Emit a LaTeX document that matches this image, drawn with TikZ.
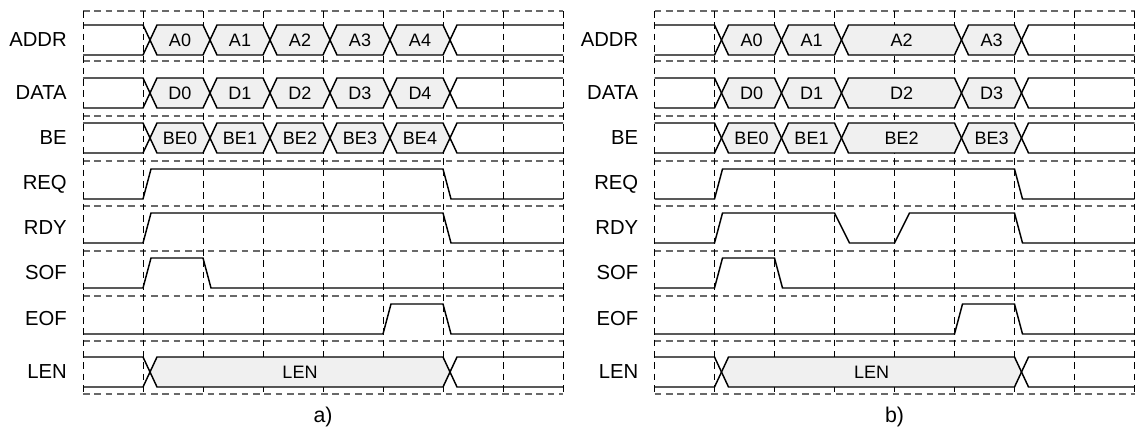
\documentclass[tikz,border=0pt]{standalone}
\usepackage{fontspec}
\setmainfont{Liberation Sans}
\usetikzlibrary{calc}
\definecolor{BusClr}{RGB}{240,240,240}
\definecolor{GridClr}{RGB}{105,105,105}

\begin{document}
\begin{tikzpicture}[x=0.75pt,y=-0.75pt,
  wave/.style={line width=1.1pt,black,line join=miter},
  busval/.style={wave,fill=BusClr},
  hgrid/.style={GridClr,line width=0.8pt,dash pattern=on 5pt off 3.5pt},
  vgrid/.style={black,line width=0.7pt,dash pattern=on 5pt off 3.5pt},
  sig/.style={font=\fontsize{15.2}{18}\selectfont,anchor=east,inner sep=0pt},
  val/.style={font=\fontsize{13.5}{16}\selectfont,inner sep=0pt},
  capt/.style={font=\fontsize{16}{19}\selectfont,inner sep=0pt}]
\useasboundingbox (0,0) rectangle (1135,439);

\newcommand{\DrawGrid}{%
  \foreach \y in {11,61,116,161,206,251,296,341,394}
    \draw[hgrid] (0,\y) -- (480,\y);
  \foreach \t in {0,...,8}
    \draw[vgrid] ({60*\t},11) -- ({60*\t},394);}
\newcommand{\DrawNames}[1]{%
  \foreach \n/\y in {ADDR/25,DATA/78,BE/123,REQ/169,RDY/213,SOF/258,EOF/304,LEN/357}
    \node[sig] (#1\n) at (-16,\y+15) {\n};}
\newcommand{\BusHead}[2]{%
  \draw[wave] (0,#1) -- ({60*(#2)},#1) -- ({60*(#2)+7},{#1+15}) -- ({60*(#2)},{#1+30}) -- (0,{#1+30});}
\newcommand{\BusTail}[2]{%
  \draw[wave] (480,#1) -- ({60*(#2)+14},#1) -- ({60*(#2)+7},{#1+15}) -- ({60*(#2)+14},{#1+30}) -- (480,{#1+30});}
\newcommand{\BusVal}[5]{%
  \filldraw[busval] ({60*(#1)+7},{#3+15}) -- ({60*(#1)+14},#3) -- ({60*(#2)},#3)
    -- ({60*(#2)+7},{#3+15}) -- ({60*(#2)},{#3+30}) -- ({60*(#1)+14},{#3+30}) -- cycle;
  \node[val] (#4) at ({30*(#1)+30*(#2)+7},{#3+15}) {#5};}

% a)
\begin{scope}[shift={(83,0)}]
\DrawGrid
\DrawNames{a}
\foreach \y/\p in {25/A,78/D,123/BE}{
  \BusHead{\y}{1}
  \foreach \i in {0,...,4} \BusVal{\i+1}{\i+2}{\y}{a\p\i}{\p\i};
  \BusTail{\y}{6}}
\draw[wave] (0,199) -- (60,199) -- (68,169) -- (360,169) -- (368,199) -- (480,199);
\draw[wave] (0,243) -- (60,243) -- (68,213) -- (360,213) -- (368,243) -- (480,243);
\draw[wave] (0,288) -- (60,288) -- (68,258) -- (120,258) -- (128,288) -- (480,288);
\draw[wave] (0,334) -- (300,334) -- (308,304) -- (360,304) -- (368,334) -- (480,334);
\BusHead{357}{1}
\BusVal{1}{6}{357}{aLENv}{LEN}
\BusTail{357}{6}
\node[capt] (acap) at (240,417) {a)};
\end{scope}

% b)
\begin{scope}[shift={(654.5,0)}]
\DrawGrid
\DrawNames{b}
\foreach \y/\p in {25/A,78/D,123/BE}{
  \BusHead{\y}{1}
  \foreach \i/\s/\e in {0/1/2,1/2/3,2/3/5,3/5/6} \BusVal{\s}{\e}{\y}{b\p\i}{\p\i};
  \BusTail{\y}{6}}
\draw[wave] (0,199) -- (60,199) -- (68,169) -- (360,169) -- (368,199) -- (480,199);
\draw[wave] (0,243) -- (60,243) -- (68,213) -- (180,213) -- (195,243) -- (240,243)
  -- (255,213) -- (360,213) -- (368,243) -- (480,243);
\draw[wave] (0,288) -- (60,288) -- (68,258) -- (120,258) -- (128,288) -- (480,288);
\draw[wave] (0,334) -- (300,334) -- (308,304) -- (360,304) -- (368,334) -- (480,334);
\BusHead{357}{1}
\BusVal{1}{6}{357}{bLENv}{LEN}
\BusTail{357}{6}
\node[capt] (bcap) at (240,417) {b)};
\end{scope}

\end{tikzpicture}
\end{document}
